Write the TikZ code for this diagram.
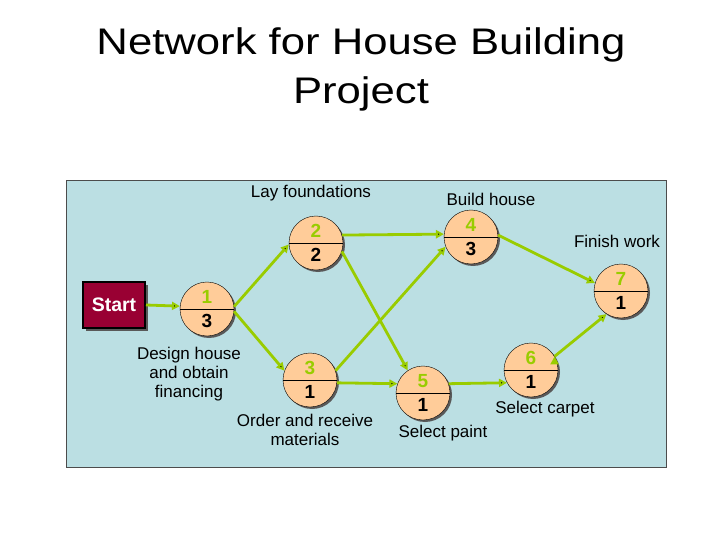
\documentclass[tikz,border=0pt]{standalone}
\usepackage{fontspec}
\setmainfont{Liberation Sans}
\usetikzlibrary{shapes.multipart, shadows, arrows.meta}
\definecolor{panelblue}{RGB}{187,223,227}
\definecolor{linkgreen}{RGB}{153,204,0}
\definecolor{eventpeach}{RGB}{255,204,153}
\definecolor{startred}{RGB}{153,0,51}
\tikzset{
  event/.style={
    circle split,
    draw=black, thin,
    fill=eventpeach,
    minimum size=54pt, inner xsep=2pt, inner ysep=5pt,
    font=\fontsize{19}{19}\selectfont\bfseries,
    drop shadow={shadow xshift=2pt, shadow yshift=-2pt, fill=black!65, opacity=1}
  },
  task/.style={
    align=center,
    font=\fontsize{17}{19}\selectfont
  },
  link/.style={
    draw=linkgreen, line width=2.8pt,
    -{Triangle[length=8pt,width=8pt]}
  }
}

\begin{document}
\begin{tikzpicture}[x=1pt, y=-1pt]
          \useasboundingbox (0,0) rectangle (720,540);
          \node[align=center, font=\fontsize{37}{49}\selectfont, xscale=1.18] (title) at (361,69) {Network for House Building\\Project};
          \draw[draw=black!70, fill=panelblue] (66,180) rectangle (666,467);

          \node[draw=black, line width=2pt, fill=startred, text=white,
                minimum width=62pt, minimum height=46pt,
                font=\fontsize{19.5}{20}\selectfont\bfseries,
                drop shadow={shadow xshift=2.5pt, shadow yshift=-2.5pt, fill=black!65, opacity=1}]
                (start) at (114,305) {Start};

          \node[event] (n1) at (207,309) {\textcolor{linkgreen}{1}\nodepart{lower}3};
          \node[event] (n2) at (316,243) {\textcolor{linkgreen}{2}\nodepart{lower}2};
          \node[event] (n3) at (310,380) {\textcolor{linkgreen}{3}\nodepart{lower}1};
          \node[event] (n4) at (471,237) {\textcolor{linkgreen}{4}\nodepart{lower}3};
          \node[event] (n5) at (423,393) {\textcolor{linkgreen}{5}\nodepart{lower}1};
          \node[event] (n6) at (531,370) {\textcolor{linkgreen}{6}\nodepart{lower}1};
          \node[event] (n7) at (621,291) {\textcolor{linkgreen}{7}\nodepart{lower}1};

          \node[task] (lay) at (311,193) {Lay foundations};
          \node[task] (build) at (491,199) {Build house};
          \node[task] (finish) at (617,241) {Finish work};
          \node[task] (design) at (189,374) {Design house\\and obtain\\financing};
          \node[task] (order) at (305,430) {Order and receive\\materials};
          \node[task] (paint) at (443,433) {Select paint};
          \node[task] (carpet) at (545,409) {Select carpet};

          \path[link]
          (start.east) edge (n1.174)
          (n1.5) edge (n2.183)
          (n1.-5) edge (n3.160)
          (n2.17) edge (n4.174)
          (n2.-18) edge (n5.124)
          (n3.20) edge (n4.201)
          (n3.-6) edge (n5.160)
          (n4.4) edge (n7.163)
          (n5.20) edge (n6.208)
          (n6.30) edge (n7.238);
        \end{tikzpicture}
\end{document}
